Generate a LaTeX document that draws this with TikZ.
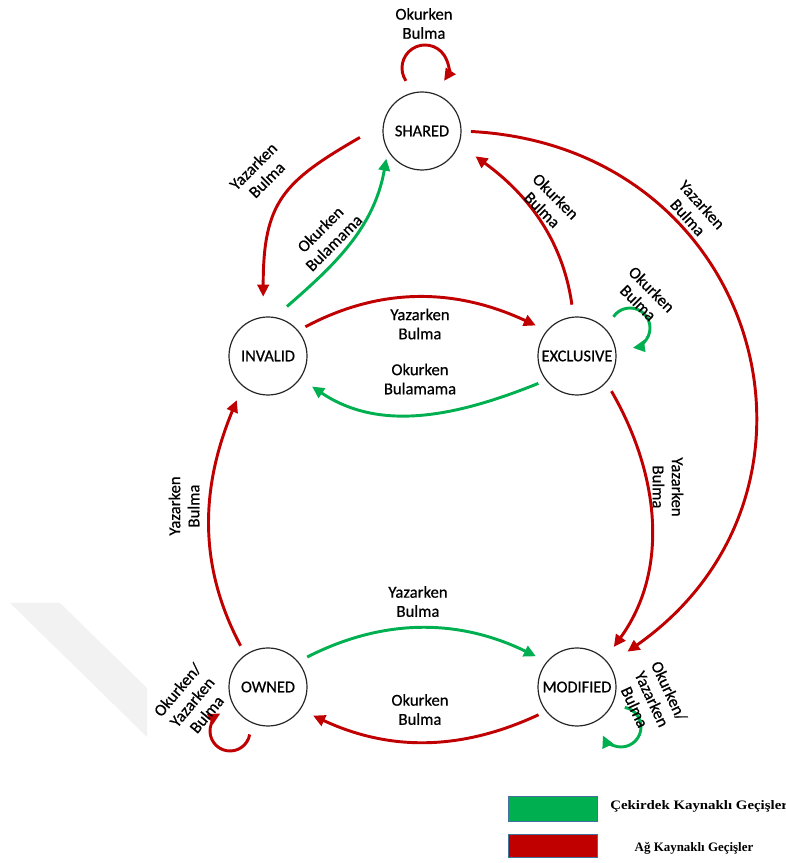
\documentclass[tikz,border=0pt]{standalone}
\usepackage{fontspec}
\setmainfont{Carlito}
\newfontfamily\labelfont[FakeBold=0.6]{Carlito}
\newfontfamily\legendfont{Liberation Serif}
\usetikzlibrary{arrows.meta,calc}

\definecolor{netred}{HTML}{C00000}
\definecolor{coregreen}{HTML}{00B050}
\definecolor{legendedge}{HTML}{41719C}

\begin{document}
\begin{tikzpicture}[x=0.75pt,y=0.75pt,
  state/.style={circle, draw=black!85, line width=0.9pt, minimum size=58.5pt,
    inner sep=0pt, font=\labelfont\fontsize{12.3}{14}\selectfont},
  lbl/.style={align=center, inner sep=0pt, font=\labelfont\fontsize{12.5}{14.3}\selectfont},
  link/.style={line width=2.2pt, -{Triangle[length=9pt,width=8.5pt]}},
  net/.style={link, draw=netred},
  core/.style={link, draw=coregreen},
  keybox/.style={draw=legendedge, line width=0.75pt, minimum width=66.75pt, inner sep=0pt},
  keytext/.style={inner sep=0pt, font=\legendfont\bfseries\fontsize{9.7}{12}\selectfont},
]
\useasboundingbox (0,0) rectangle (785,863);

% faint background band
\fill[black!5] (10,260) -- (60,260) -- (147,175) -- (147,126) -- cycle;

% states
\node[state] (S) at (422,732) {SHARED};
\node[state] (I) at (268,507) {INVALID};
\node[state] (E) at (577,507) {EXCLUSIVE};
\node[state] (O) at (268,176) {OWNED};
\node[state] (M) at (577,176) {MODIFIED};

% transitions between states
\draw[net,  shorten <=20pt, shorten >=15pt] (S.170) to[out=210, in=90, looseness=1.3] (I.97);
\draw[core, shorten <=12pt, shorten >=6pt]  (I.80) to[out=41, in=260] (S.210);
\draw[net,  shorten <=6pt, shorten >=9pt]   (I.40) to[out=28, in=155] (E.140);
\draw[core, shorten <=6pt, shorten >=10.5pt] (E.218) to[out=202, in=-34] (I.-35);
\draw[net,  shorten <=9pt, shorten >=15pt]  (E.95) to[out=98, in=-36] (S.-20);
\draw[net,  shorten <=7pt, shorten >=16.5pt] (S.0) .. controls +(-3:300) and +(35:300) .. (M.35);
\draw[net,  shorten <=7.5pt, shorten >=11.25pt] (E.-42) to[out=-60, in=54] (M.45);
\draw[net,  shorten <=7.5pt, shorten >=11.25pt] (O.125) to[out=118, in=247.5] (I.230);
\draw[core, shorten <=7.5pt, shorten >=9pt] (O.40) to[out=27, in=154] (M.140);
\draw[net,  shorten <=6pt, shorten >=10.5pt] (M.218) to[out=205, in=-25] (O.-35);

% self loops
\draw[net]  ($(S)+(3,63)$)   ++(214:23) arc[start angle=214, end angle=-34, radius=23];
\draw[core] ($(E)+(53,28)$)  ++(146:20) arc[start angle=146, end angle=-82, radius=20];
\draw[core] ($(M)+(44,-40)$) ++(79:20)  arc[start angle=79, end angle=-155, radius=20];
\draw[net]  ($(O)+(-38,-44)$) ++(-10:20) arc[start angle=-10, end angle=-241, radius=20];

% transition labels
\node[lbl] (tS) at (424,839.5) {Okurken\\Bulma};
\node[lbl, rotate=45] (tSI) at (260,690) {Yazarken\\Bulma};
\node[lbl, rotate=45] (tIS) at (327,627) {Okurken\\Bulamama};
\node[lbl] (tIE) at (420,539) {Yazarken\\Bulma};
\node[lbl] (tEI) at (420,484) {Okurken\\Bulamama};
\node[lbl, rotate=-45] (tES) at (549,660) {Okurken\\Bulma};
\node[lbl, rotate=-48] (tSM) at (695,652) {Yazarken\\Bulma};
\node[lbl, rotate=-45] (tE) at (645,567) {Okurken\\Bulma};
\node[lbl, rotate=-90] (tEM) at (668,376) {Yazarken\\Bulma};
\node[lbl, rotate=90] (tOI) at (184,357) {Yazarken\\Bulma};
\node[lbl] (tOM) at (418,261.5) {Yazarken\\Bulma};
\node[lbl] (tMO) at (420,153.5) {Okurken\\Bulma};
\node[lbl, rotate=-65] (tM) at (652,164) {Okurken/\\Yazarken\\Bulma};
\node[lbl, rotate=50] (tO) at (192,161) {Okurken/\\Yazarken\\Bulma};

% legend
\node[keybox, fill=coregreen, minimum height=18.75pt] (kc) at (552.5,53.5) {};
\node[keybox, fill=netred, minimum height=17.25pt] (kn) at (552.5,16.5) {};
\node[keytext, anchor=west, xscale=1.15] (kct) at (610,57) {Çekirdek Kaynaklı Geçişler};
\node[keytext] (knt) at (694,15) {Ağ Kaynaklı Geçişler};
\end{tikzpicture}
\end{document}
